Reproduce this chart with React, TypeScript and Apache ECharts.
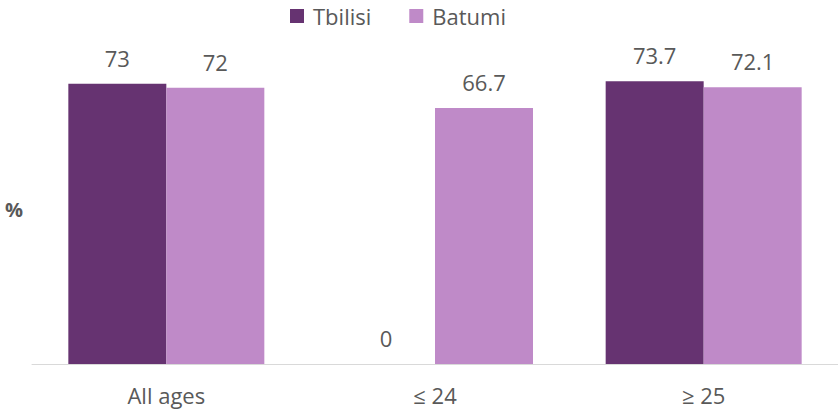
import React, { useEffect, useRef } from "react";
import * as echarts from "echarts";

const categories = ["All ages", "≤ 24", "≥ 25"];
const tbilisi = [73, 0, 73.7];
const batumi = [72, 66.7, 72.1];

export default function App() {
  const ref = useRef<HTMLDivElement>(null);
  useEffect(() => {
    const chart = echarts.init(ref.current!, undefined, { renderer: "svg" });
    const font = "'Open Sans', sans-serif";
    const labelStyle = { show: true, position: "top", distance: 15, fontSize: 22, color: "#595959", fontFamily: font };
    chart.setOption({
      animation: false,
      textStyle: { fontFamily: font },
      legend: {
        top: 5,
        left: 290,
        padding: 0,
        itemWidth: 14,
        itemHeight: 14,
        itemGap: 38,
        icon: "rect",
        textStyle: { fontSize: 22, color: "#595959", fontFamily: font, padding: [0, 0, 0, 4] },
        data: ["Tbilisi", "Batumi"],
      },
      grid: { left: 32, right: 0, top: 57, bottom: 50 },
      xAxis: {
        type: "category",
        data: categories,
        axisLine: { lineStyle: { color: "#d9d9d9", width: 1 } },
        axisTick: { show: false },
        axisLabel: { fontSize: 22, color: "#595959", margin: 20, fontFamily: font },
      },
      yAxis: {
        type: "value",
        min: 0,
        max: 80,
        show: false,
        splitLine: { show: false },
      },
      graphic: [
        {
          type: "text",
          left: 5,
          top: 199,
          style: { text: "%", fontSize: 20, fontWeight: "bold", fill: "#595959", fontFamily: font },
        },
      ],
      series: [
        {
          name: "Tbilisi",
          type: "bar",
          data: tbilisi,
          barWidth: 98,
          barGap: "0%",
          itemStyle: { color: "#663371" },
          label: labelStyle,
        },
        {
          name: "Batumi",
          type: "bar",
          data: batumi,
          barWidth: 98,
          barGap: "0%",
          itemStyle: { color: "#BF8AC8" },
          label: labelStyle,
        },
      ],
    });
    return () => chart.dispose();
  }, []);
  return <div ref={ref} style={{ position: "absolute", left: 0, top: 0, width: 838, height: 414 }} />;
}
